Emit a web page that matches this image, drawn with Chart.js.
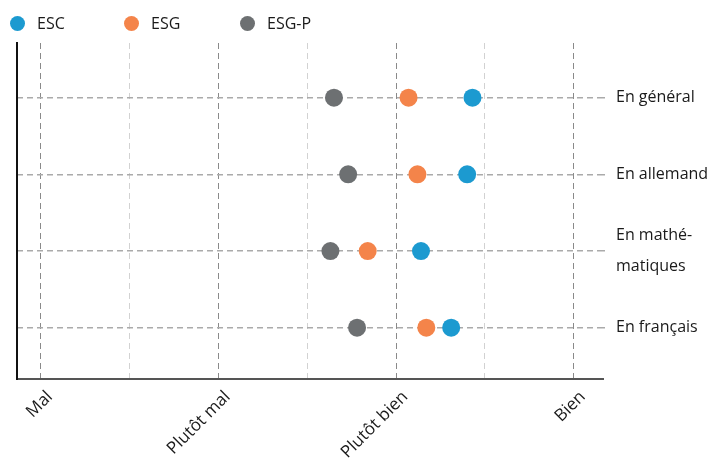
<!DOCTYPE html>
<html>
<head>
<meta charset="utf-8">
<script src="https://cdn.jsdelivr.net/npm/chart.js@4"></script>
<style>
  body { margin: 0; background: #fff; font-family: "Open Sans", sans-serif; }
  #wrap { position: relative; width: 714px; height: 458px; }
  #legend { position: absolute; left: 0; top: 0; height: 40px; font-size: 16px; color: #1a1a1a; }
  .item { position: absolute; top: 13px; line-height: 20px; white-space: nowrap; }
  .dot { position: absolute; top: 3px; width: 15px; height: 15px; border-radius: 50%; }
</style>
</head>
<body>
<div id="wrap">
  <canvas id="chart"></canvas>
  <div id="legend"></div>
</div>
<script>
const categories = ['En général', 'En allemand', ['En mathé-', 'matiques'], 'En français']
const seriesNames = ['ESC', 'ESG', 'ESG-P']
const seriesColors = ['#1c9ad0', '#f4844a', '#6d7072']
const escValues = [3.43, 3.40, 3.14, 3.31]
const esgValues = [3.07, 3.12, 2.84, 3.17]
const esgpValues = [2.65, 2.73, 2.63, 2.78]
const xTickValues = [1, 1.5, 2, 2.5, 3, 3.5, 4]
const xTickLabels = { 1: 'Mal', 2: 'Plutôt mal', 3: 'Plutôt bien', 4: 'Bien' }

const toPoints = values => values.map((v, i) => ({ x: v, y: i }))
const allValues = [escValues, esgValues, esgpValues]

// legend drawn as html, the chart.js legend can't space items like this
const legendPos = [10, 124, 240]
const legend = document.getElementById('legend')
seriesNames.forEach((name, i) => {
  const el = document.createElement('div')
  el.className = 'item'
  el.style.left = legendPos[i] + 'px'
  el.innerHTML = `<span class="dot" style="background:${seriesColors[i]}"></span><span style="margin-left:27px">${name}</span>`
  legend.appendChild(el)
})

const ctx = document.getElementById('chart')

new Chart(ctx, {
  type: 'scatter',
  data: {
    datasets: seriesNames.map((name, i) => ({
      label: name,
      data: toPoints(allValues[i]),
      backgroundColor: seriesColors[i],
      borderWidth: 0,
      pointRadius: 9,
      pointHoverRadius: 9,
      yAxisID: 'y'
    }))
  },
  options: {
    responsive: true,
    maintainAspectRatio: false,
    animation: false,
    layout: { padding: { top: 43, left: 17, right: 0, bottom: 0 } },
    plugins: {
      legend: { display: false },
      tooltip: { enabled: false }
    },
    scales: {
      x: {
        type: 'linear',
        min: 0.865,
        max: 4.165,
        afterBuildTicks: scale => {
          scale.ticks = xTickValues.map(v => ({ value: v }))
        },
        afterFit: scale => { scale.height = 79 },
        ticks: {
          autoSkip: false,
          minRotation: 45,
          maxRotation: 45,
          padding: 8,
          labelOffset: 9,
          color: '#1a1a1a',
          font: { family: 'Open Sans', size: 17 },
          callback: v => xTickLabels[v] || ''
        },
        grid: {
          drawTicks: false,
          lineWidth: 1,
          color: c => Number.isInteger(c.tick && c.tick.value) ? '#8a8a8a' : '#d2d2d2'
        },
        border: { display: true, color: '#555', width: 2, dash: [6, 4] }
      },
      y: {
        type: 'linear',
        position: 'right',
        reverse: true,
        min: -0.713,
        max: 3.669,
        afterBuildTicks: scale => {
          scale.ticks = categories.map((c, i) => ({ value: i }))
        },
        afterFit: scale => { scale.width = 111 },
        ticks: {
          padding: 11,
          color: '#1a1a1a',
          font: { family: 'Open Sans', size: 16, lineHeight: 1.95 },
          callback: v => categories[v]
        },
        grid: { color: '#aaaaaa', lineWidth: 1.5, tickLength: 2 },
        border: { display: false, dash: [6, 4] }
      },
      yl: {
        type: 'linear',
        position: 'left',
        reverse: true,
        min: -0.713,
        max: 3.669,
        ticks: { display: false },
        grid: { display: false, drawTicks: false },
        border: { display: true, color: '#111', width: 2 }
      }
    }
  }
})
</script>
</body>
</html>
